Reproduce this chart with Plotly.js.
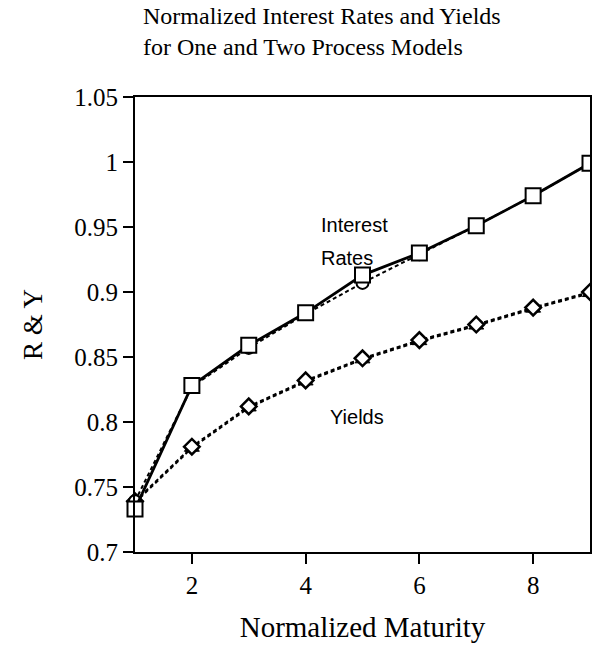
<!DOCTYPE html>
<html>
<head>
<meta charset="utf-8">
<script src="https://cdn.plot.ly/plotly-3.0.1.min.js"></script>
<style>html,body{margin:0;padding:0;background:#fff;}#chart{width:592px;height:667px;}</style>
</head>
<body>
<div id="chart"></div>
<script>
// Data
const maturity = [1, 2, 3, 4, 5, 6, 7, 8, 9];
const ratesOneProcess = [0.733, 0.828, 0.859, 0.884, 0.913, 0.930, 0.951, 0.974, 0.999];
const ratesTwoProcess = [0.739, 0.827, 0.857, 0.883, 0.907, 0.929, 0.951, 0.974, 0.999];
const yieldsOneProcess = [0.739, 0.781, 0.812, 0.832, 0.849, 0.863, 0.875, 0.888, 0.900];
const yieldsTwoProcess = [0.738, 0.780, 0.811, 0.831, 0.848, 0.862, 0.874, 0.887, 0.899];
const yTicks = [0.7, 0.75, 0.8, 0.85, 0.9, 0.95, 1, 1.05];
const yTickLabels = ['0.7', '0.75', '0.8', '0.85', '0.9', '0.95', '1', '1.05'];
const xTicks = [2, 4, 6, 8];

const serif = 'Liberation Serif, Times New Roman, serif';
const sans = 'Liberation Sans, Arial, sans-serif';

const traces = [
  {x: maturity, y: yieldsTwoProcess, mode: 'lines+markers', name: 'Yields (two process)',
   line: {color: 'black', width: 2, dash: '4px,3px'},
   marker: {symbol: 'triangle-up', size: 13, color: 'black', line: {color: 'black', width: 1}}, cliponaxis: false},
  {x: maturity, y: yieldsOneProcess, mode: 'lines+markers', name: 'Yields (one process)',
   line: {color: 'black', width: 2, dash: '4px,3px'},
   marker: {symbol: 'diamond', size: 12, color: 'white', line: {color: 'black', width: 2.5}}, cliponaxis: false},
  {x: maturity, y: ratesTwoProcess, mode: 'lines+markers', name: 'Interest rates (two process)',
   line: {color: 'black', width: 2, dash: '4px,3px'},
   marker: {symbol: 'circle', size: 12, color: 'white', line: {color: 'black', width: 2}}, cliponaxis: false},
  {x: maturity, y: ratesOneProcess, mode: 'lines+markers', name: 'Interest rates (one process)',
   line: {color: 'black', width: 2.8},
   marker: {symbol: 'square', size: 15, color: 'white', line: {color: 'black', width: 2}}, cliponaxis: false}
];

const layout = {
  width: 592, height: 667,
  margin: {l: 135, r: 2, t: 97, b: 115},
  paper_bgcolor: 'white', plot_bgcolor: 'white',
  showlegend: false,
  title: {
    text: 'Normalized Interest Rates and Yields<br>for One and Two Process Models',
    font: {family: serif, size: 24, color: 'black'},
    x: 0.2416, xanchor: 'left', xref: 'container',
    y: 0.964, yanchor: 'top', yref: 'container'
  },
  xaxis: {
    range: [1, 9], tickvals: xTicks, ticks: 'outside', ticklen: 10, tickwidth: 2, tickcolor: 'black',
    showline: true, linecolor: 'black', linewidth: 2, mirror: true, showgrid: false, zeroline: false,
    tickfont: {family: serif, size: 25, color: 'black'},
    title: {text: 'Normalized Maturity', font: {family: serif, size: 29, color: 'black'}, standoff: 19}
  },
  yaxis: {
    range: [0.7, 1.05], tickvals: yTicks, ticktext: yTickLabels, ticks: 'outside', ticklen: 10, tickwidth: 2, tickcolor: 'black',
    showline: true, linecolor: 'black', linewidth: 2, mirror: true, showgrid: false, zeroline: false,
    tickfont: {family: serif, size: 25, color: 'black'},
    title: {text: 'R &amp; Y', font: {family: serif, size: 27, color: 'black'}, standoff: 24}
  },
  annotations: [
    {x: 4.235, y: 0.9515, xref: 'x', yref: 'y', text: 'Interest', showarrow: false, xanchor: 'left',
     font: {family: sans, size: 20, color: 'black'}},
    {x: 4.235, y: 0.926, xref: 'x', yref: 'y', text: 'Rates', showarrow: false, xanchor: 'left',
     font: {family: sans, size: 20, color: 'black'}},
    {x: 4.39, y: 0.804, xref: 'x', yref: 'y', text: 'Yields', showarrow: false, xanchor: 'left',
     font: {family: sans, size: 20, color: 'black'}}
  ]
};

Plotly.newPlot('chart', traces, layout, {staticPlot: true, displayModeBar: false});
</script>
</body>
</html>
